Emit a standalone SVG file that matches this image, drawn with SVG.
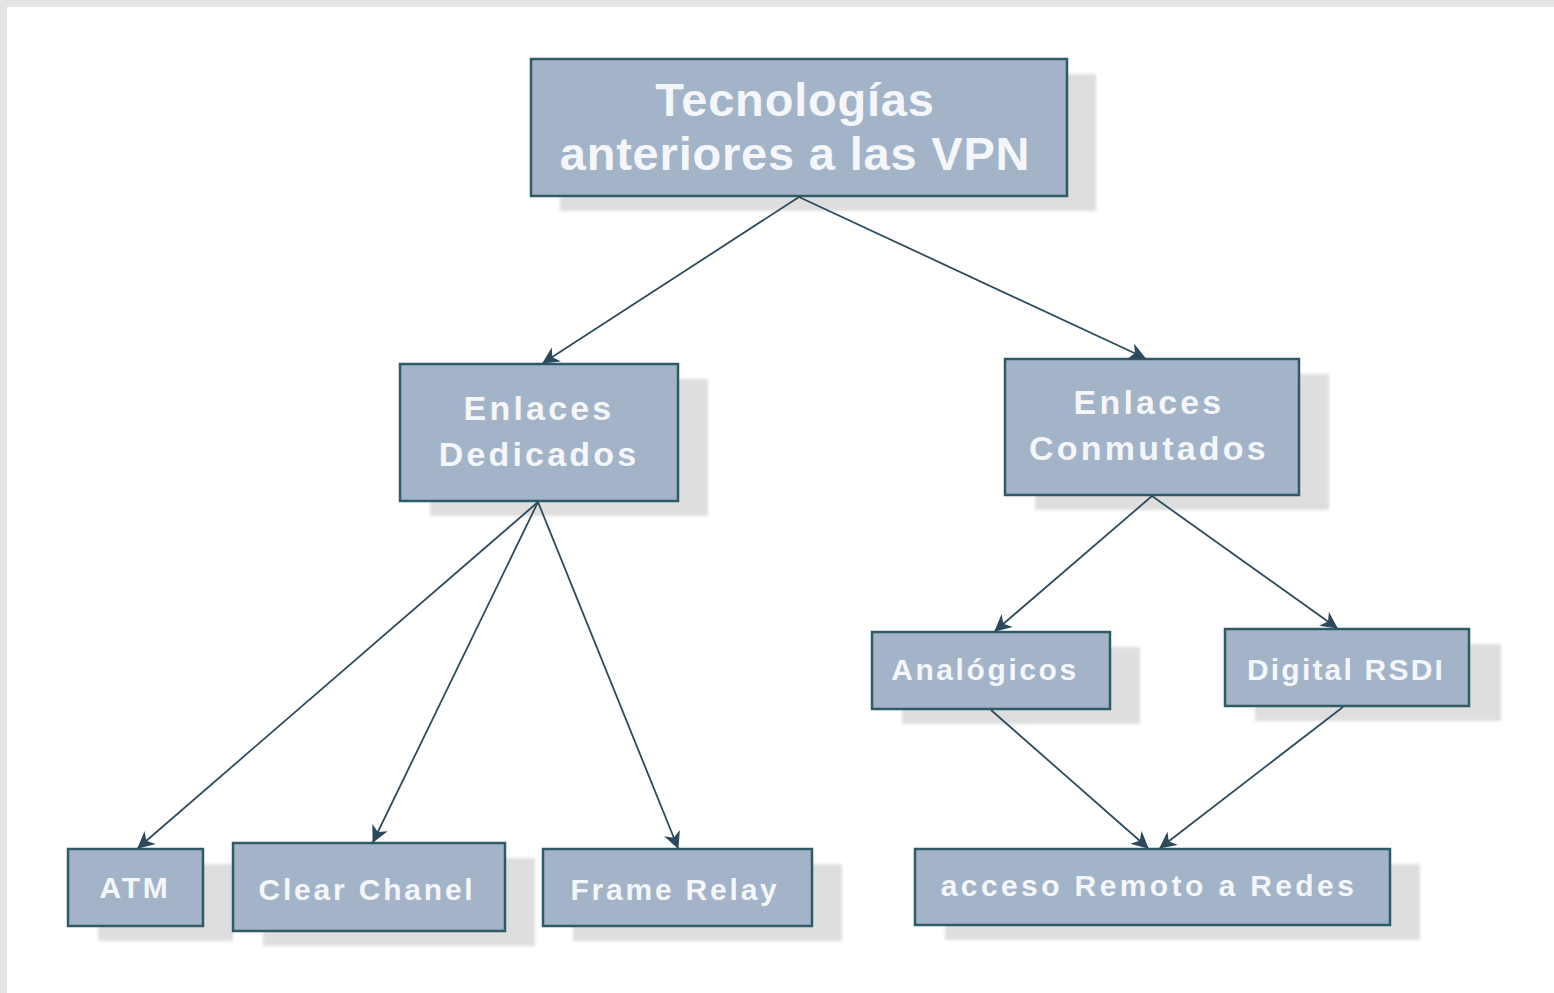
<svg xmlns="http://www.w3.org/2000/svg" width="1554" height="993" viewBox="0 0 1554 993">
  <style>
    .box { fill: #a3b3c8; stroke: #2e5b66; stroke-width: 2.5; }
    .shadow { fill: #dedede; filter: url(#soft); }
    .lbl { fill: #f4f6fa; font-family: "Liberation Sans", Arial, sans-serif; font-weight: bold; text-anchor: middle; }
    .big { font-size: 47px; letter-spacing: 0.8px; }
    .mid { font-size: 34px; letter-spacing: 3.2px; }
    .small { font-size: 30px; letter-spacing: 2.8px; }
    .edge { stroke: #2f4b5c; stroke-width: 1.8; fill: none; marker-end: url(#arrow); }
  </style>
  <defs>
    <filter id="soft" x="-10%" y="-10%" width="120%" height="120%">
      <feGaussianBlur stdDeviation="1.5"/>
    </filter>
    <marker id="arrow" markerUnits="userSpaceOnUse" markerWidth="17" markerHeight="17" refX="16" refY="8.5" orient="auto">
      <path d="M0,0 L17,8.5 L0,17 L5,8.5 Z" fill="#2c4a5c"/>
    </marker>
  </defs>

  <!-- page frame -->
  <rect x="0" y="0" width="1554" height="993" fill="#ffffff"/>
  <rect x="0" y="0" width="1554" height="7" fill="#e4e4e4"/>
  <rect x="0" y="0" width="7" height="993" fill="#e4e4e4"/>

  <g id="root">
    <rect class="shadow" x="560" y="74" width="536" height="137"/>
    <rect class="box" x="531" y="59" width="536" height="137"/>
    <text class="lbl big" x="795" y="116">Tecnologías</text>
    <text class="lbl big" x="795" y="170">anteriores a las VPN</text>
  </g>

  <g id="dedicados">
    <rect class="shadow" x="430" y="379" width="278" height="137"/>
    <rect class="box" x="400" y="364" width="278" height="137"/>
    <text class="lbl mid" x="539" y="420">Enlaces</text>
    <text class="lbl mid" x="539" y="466">Dedicados</text>
  </g>

  <g id="conmutados">
    <rect class="shadow" x="1035" y="374" width="294" height="136"/>
    <rect class="box" x="1005" y="359" width="294" height="136"/>
    <text class="lbl mid" x="1149" y="414">Enlaces</text>
    <text class="lbl mid" x="1149" y="460">Conmutados</text>
  </g>

  <g id="analogicos">
    <rect class="shadow" x="902" y="647" width="238" height="77"/>
    <rect class="box" x="872" y="632" width="238" height="77"/>
    <text class="lbl small" x="985" y="680" style="letter-spacing:2.6px">Analógicos</text>
  </g>

  <g id="rsdi">
    <rect class="shadow" x="1255" y="644" width="246" height="77"/>
    <rect class="box" x="1225" y="629" width="244" height="77"/>
    <text class="lbl small" x="1346" y="680" style="letter-spacing:2.2px">Digital RSDI</text>
  </g>

  <g id="atm">
    <rect class="shadow" x="98" y="864" width="135" height="77"/>
    <rect class="box" x="68" y="849" width="135" height="77"/>
    <text class="lbl small" x="135" y="898">ATM</text>
  </g>

  <g id="clear">
    <rect class="shadow" x="263" y="858" width="272" height="88"/>
    <rect class="box" x="233" y="843" width="272" height="88"/>
    <text class="lbl small" x="367" y="900">Clear Chanel</text>
  </g>

  <g id="frame">
    <rect class="shadow" x="573" y="864" width="269" height="77"/>
    <rect class="box" x="543" y="849" width="269" height="77"/>
    <text class="lbl small" x="675" y="900">Frame Relay</text>
  </g>

  <g id="acceso">
    <rect class="shadow" x="945" y="864" width="475" height="76"/>
    <rect class="box" x="915" y="849" width="475" height="76"/>
    <text class="lbl small" x="1149" y="896" style="letter-spacing:3.4px">acceso Remoto a Redes</text>
  </g>

  <!-- connectors, drawn over the box shadows -->
  <g id="connectors">
    <line class="edge" x1="799" y1="197" x2="543" y2="363"/>
    <line class="edge" x1="799" y1="197" x2="1145" y2="358"/>
    <line class="edge" x1="538" y1="502" x2="138" y2="848"/>
    <line class="edge" x1="538" y1="502" x2="373" y2="842"/>
    <line class="edge" x1="538" y1="502" x2="678" y2="848"/>
    <line class="edge" x1="1152" y1="496" x2="995" y2="631"/>
    <line class="edge" x1="1152" y1="496" x2="1337" y2="628"/>
    <line class="edge" x1="991" y1="710" x2="1148" y2="848"/>
    <line class="edge" x1="1343" y1="707" x2="1160" y2="848"/>
  </g>
</svg>
